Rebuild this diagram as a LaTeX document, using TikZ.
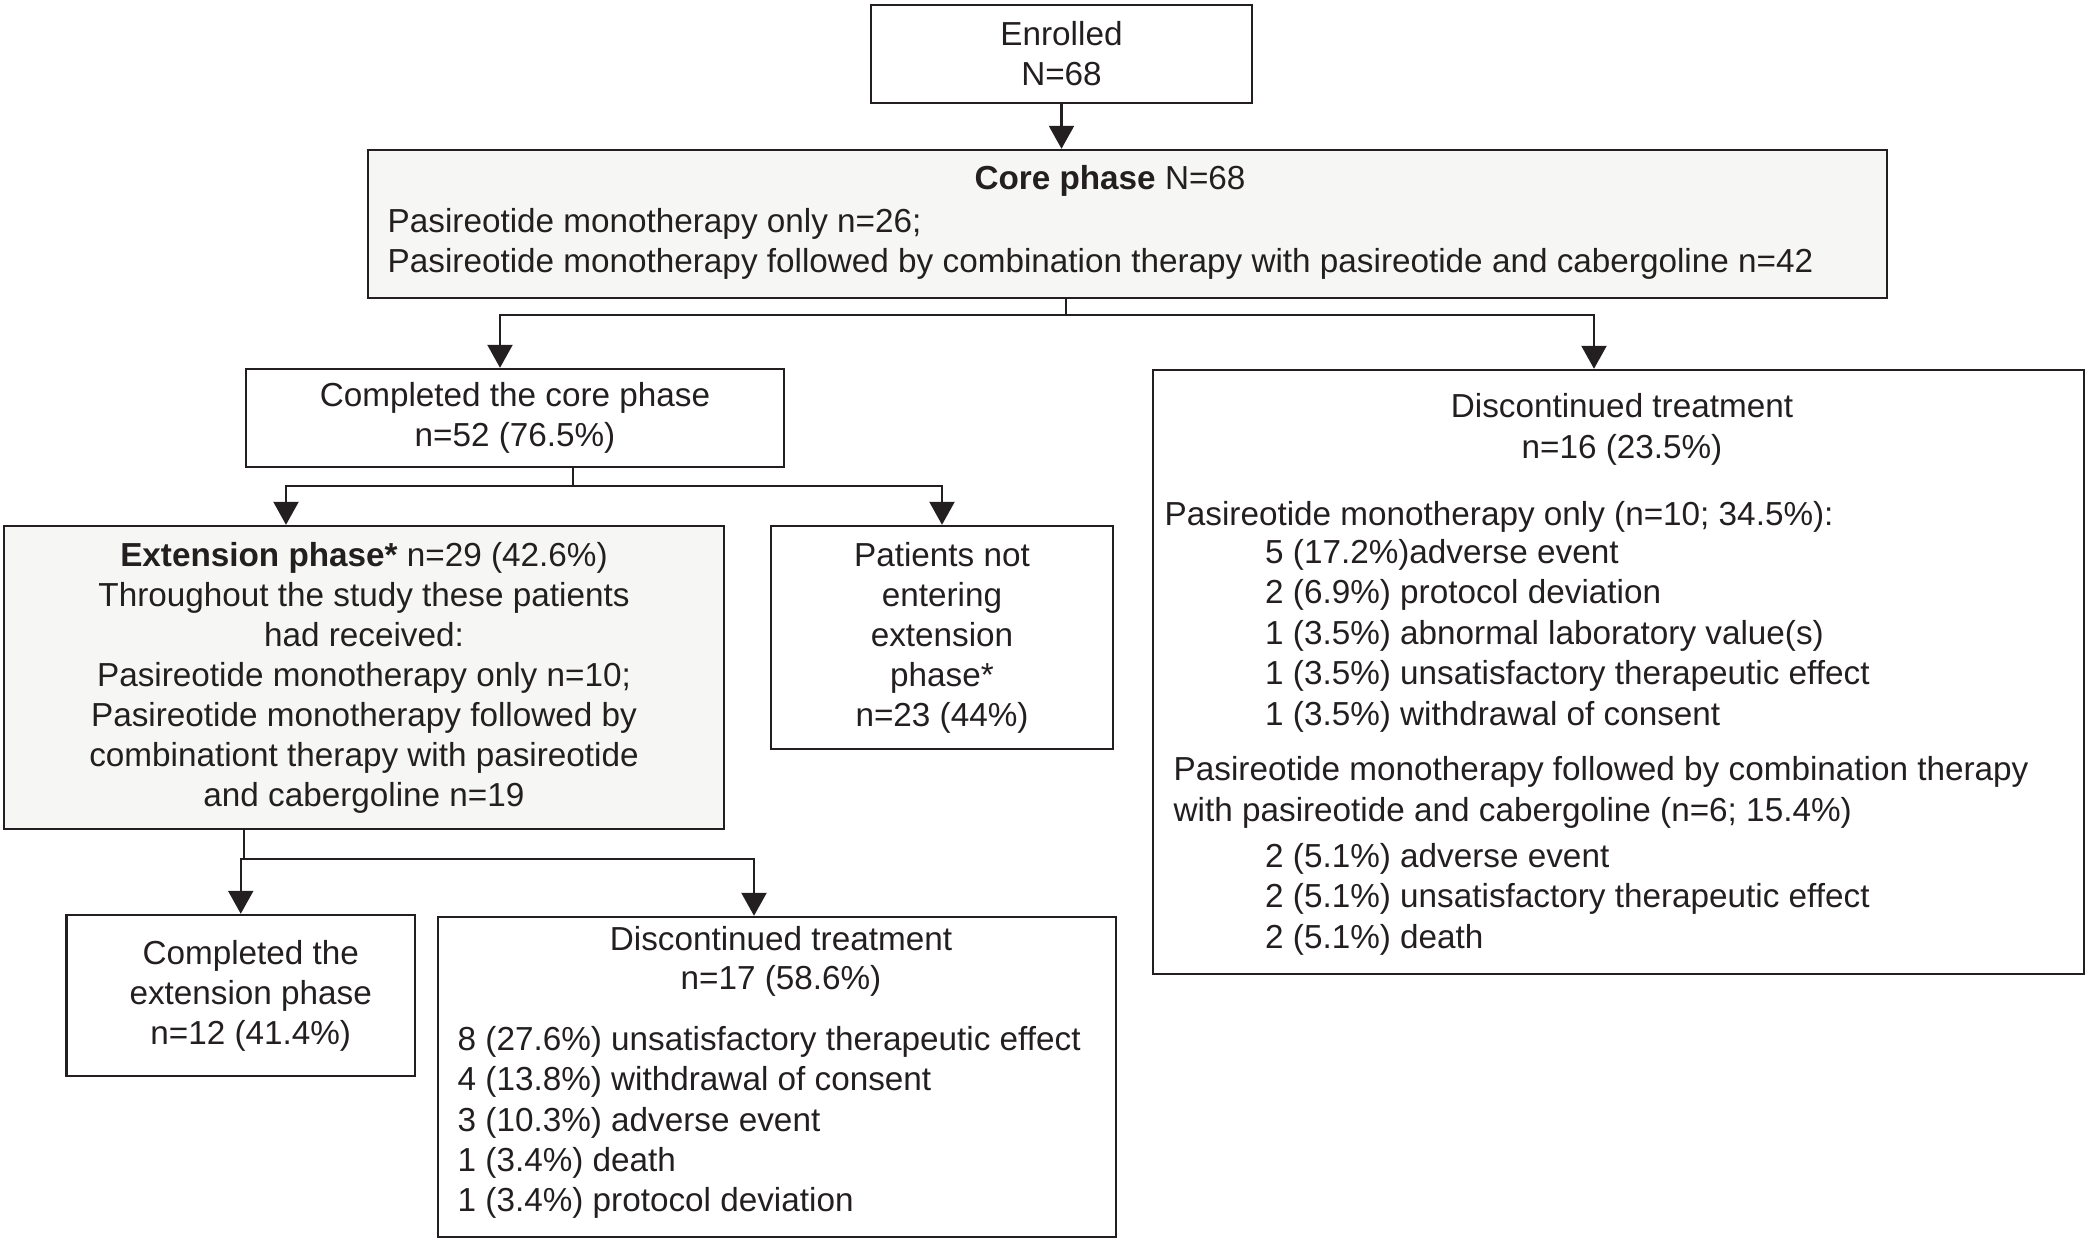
\documentclass[tikz,border=0pt]{standalone}
\usepackage{fontspec}
\setmainfont{Liberation Sans}
\usetikzlibrary{arrows.meta}
\definecolor{ink}{RGB}{35,31,32}
\definecolor{boxgray}{RGB}{246,246,245}
\newcommand{\fsz}{\fontsize{9.47pt}{11.38pt}\selectfont}
\tikzset{
  box/.style={draw=ink,line width=0.7pt,inner sep=0pt,align=center,font=\fsz,text=ink},
  greybox/.style={box,fill=boxgray},
  txt/.style={inner sep=0pt,font=\fsz,text=ink},
  link/.style={draw=ink,line width=0.65pt},
  arrow/.style={link,-{Triangle[length=0.23cm,width=0.25cm]}},
}
\begin{document}
\begin{tikzpicture}
\useasboundingbox (0,0) rectangle (20.89,-12.43);

% boxes
\node[box,minimum width=3.81cm,minimum height=0.985cm] (enrolled) at (10.615,-0.54) {Enrolled\\N=68};
\node[greybox,minimum width=15.19cm,minimum height=1.48cm] (core) at (11.275,-2.24) {};
\node[box,minimum width=5.38cm,minimum height=0.98cm] (complcore) at (5.15,-4.18) {Completed the core phase\\n=52 (76.5\%)};
\node[box,minimum width=9.31cm,minimum height=6.04cm] (discore) at (16.185,-6.72) {};
\node[greybox,minimum width=7.20cm,minimum height=3.03cm] (ext) at (3.64,-6.775) {\textbf{Extension phase*} n=29 (42.6\%)\\Throughout the study these patients\\had received:\\Pasireotide monotherapy only n=10;\\Pasireotide monotherapy followed by\\combinationt therapy with pasireotide\\and cabergoline n=19};
\node[box,minimum width=3.42cm,minimum height=2.23cm] (notext) at (9.42,-6.375) {Patients not\\entering\\extension\\phase*\\n=23 (44\%)};
\node[box,minimum width=3.485cm,minimum height=1.61cm] (complext) at (2.4075,-9.955) {\hspace*{0.2cm}Completed the\\\hspace*{0.2cm}extension phase\\\hspace*{0.2cm}n=12 (41.4\%)};
\node[box,minimum width=6.785cm,minimum height=3.20cm] (disext) at (7.77,-10.77) {};

% core phase text
\node[txt,anchor=base] (corehead) at (11.10,-1.89) {\textbf{Core phase} N=68};
\node[txt,anchor=base west] (coreA) at (3.87,-2.32) {Pasireotide monotherapy only n=26;};
\node[txt,anchor=base west] (coreB) at (3.87,-2.72) {Pasireotide monotherapy followed by combination therapy with pasireotide and cabergoline n=42};

% discontinued after core phase
\node[txt,anchor=base] (dcA) at (16.22,-4.17) {Discontinued treatment};
\node[txt,anchor=base] (dcB) at (16.22,-4.58) {n=16 (23.5\%)};
\node[txt,anchor=base west] (dcmono) at (11.64,-5.25) {Pasireotide monotherapy only (n=10; 34.5\%):};
\node[txt,anchor=base west] (dcm1) at (12.645,-5.63) {5 (17.2\%)adverse event};
\node[txt,anchor=base west] (dcm2) at (12.645,-6.035) {2 (6.9\%) protocol deviation};
\node[txt,anchor=base west] (dcm3) at (12.645,-6.44) {1 (3.5\%) abnormal laboratory value(s)};
\node[txt,anchor=base west] (dcm4) at (12.645,-6.84) {1 (3.5\%) unsatisfactory therapeutic effect};
\node[txt,anchor=base west] (dcm5) at (12.645,-7.25) {1 (3.5\%) withdrawal of consent};
\node[txt,anchor=base west] (dccombA) at (11.73,-7.80) {Pasireotide monotherapy followed by combination therapy};
\node[txt,anchor=base west] (dccombB) at (11.73,-8.215) {with pasireotide and cabergoline (n=6; 15.4\%)};
\node[txt,anchor=base west] (dcc1) at (12.645,-8.675) {2 (5.1\%) adverse event};
\node[txt,anchor=base west] (dcc2) at (12.645,-9.07) {2 (5.1\%) unsatisfactory therapeutic effect};
\node[txt,anchor=base west] (dcc3) at (12.645,-9.48) {2 (5.1\%) death};

% discontinued in extension phase
\node[txt,anchor=base] (deA) at (7.81,-9.50) {Discontinued treatment};
\node[txt,anchor=base] (deB) at (7.81,-9.89) {n=17 (58.6\%)};
\node[txt,anchor=base west] (de1) at (4.57,-10.505) {8 (27.6\%) unsatisfactory therapeutic effect};
\node[txt,anchor=base west] (de2) at (4.57,-10.907) {4 (13.8\%) withdrawal of consent};
\node[txt,anchor=base west] (de3) at (4.57,-11.31) {3 (10.3\%) adverse event};
\node[txt,anchor=base west] (de4) at (4.57,-11.71) {1 (3.4\%) death};
\node[txt,anchor=base west] (de5) at (4.57,-12.11) {1 (3.4\%) protocol deviation};

% connectors
\draw[arrow] (enrolled.south) -- (enrolled.south |- core.north);
\coordinate (jcore) at (10.66,-3.15);
\draw[link] (core.south -| jcore) -- (jcore);
\draw[arrow] (jcore) -| ([xshift=-0.15cm]complcore.north);
\draw[arrow] (jcore) -| ([xshift=-0.245cm]discore.north);
\coordinate (jcc) at (5.73,-4.86);
\draw[link] (complcore.south -| jcc) -- (jcc);
\draw[arrow] (jcc) -| ([xshift=-0.78cm]ext.north);
\draw[arrow] (jcc) -| (notext.north);
\coordinate (jext) at (2.44,-8.59);
\draw[link] (ext.south -| jext) -- (jext);
\draw[arrow] (jext) -| (complext.north);
\draw[arrow] (jext) -| ([xshift=-0.23cm]disext.north);

\end{tikzpicture}
\end{document}
